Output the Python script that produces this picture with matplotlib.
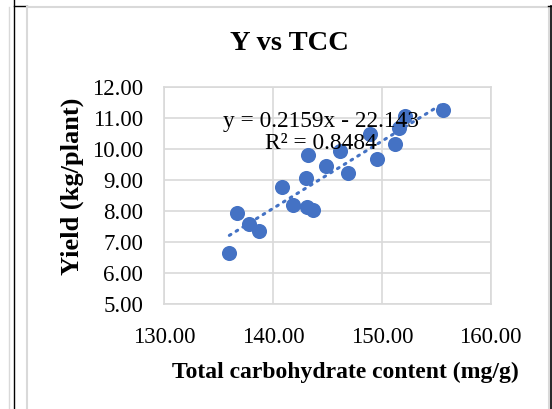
import numpy as np
import matplotlib.pyplot as plt
from matplotlib.lines import Line2D

# Total carbohydrate content (mg/g) vs yield (kg/plant)
tcc = [136.0, 136.7, 137.8, 138.7, 140.8, 141.8, 143.0, 143.1, 143.7, 143.2,
       144.9, 146.2, 146.9, 148.9, 149.6, 151.2, 151.6, 152.1, 155.6]
yield_kg = [6.65, 7.95, 7.60, 7.36, 8.79, 8.21, 9.06, 8.14, 8.04, 9.82,
            9.46, 9.93, 9.25, 10.49, 9.68, 10.17, 10.70, 11.07, 11.27]

x_ticks = [130, 140, 150, 160]
y_ticks = [5, 6, 7, 8, 9, 10, 11, 12]

title = "Y vs TCC"
x_label = "Total carbohydrate content (mg/g)"
y_label = "Yield (kg/plant)"
equation = "y = 0.2159x - 22.143\nR² = 0.8484"

blue = "#4472C4"
grid_grey = "#D9D9D9"
serif = ["Liberation Serif", "DejaVu Serif"]

plt.rcParams["font.family"] = serif

fig = plt.figure(figsize=(5.52, 4.09), dpi=100)
W, H = 552, 409

# --- page/table borders around the chart ---
def vline(x, y0, y1, color, lw):
    fig.add_artist(Line2D([x / W, x / W], [1 - y0 / H, 1 - y1 / H], color=color, lw=lw))

def hline(y, x0, x1, color, lw):
    fig.add_artist(Line2D([x0 / W, x1 / W], [1 - y / H, 1 - y / H], color=color, lw=lw))

vline(8.7, 6.5, 409, grid_grey, 1.0)
vline(14.3, 0, 409, "black", 1.0)
hline(6.0, 14.3, 26.5, "black", 1.0)
vline(26.7, 6.5, 409, grid_grey, 1.5)
hline(6.5, 26.7, 549, grid_grey, 1.5)
vline(548.7, 6.5, 409, grid_grey, 1.5)
vline(551.0, 5.5, 409, "black", 1.2)
hline(6.0, 547.5, 551, "black", 1.0)

# --- plot area ---
ax = fig.add_axes([164 / W, 1 - 304.3 / H, (490.7 - 164) / W, (304.3 - 87.3) / H])

ax.scatter(tcc, yield_kg, s=118, color=blue, zorder=3, linewidths=0)

# linear trendline (dotted, as in Excel)
slope, intercept = np.polyfit(tcc, yield_kg, 1)
xs = np.array([min(tcc), max(tcc)])
ax.plot(xs, slope * xs + intercept, color=blue, lw=2.2,
        linestyle=(0, (0.6, 2.0)), dash_capstyle="round", zorder=2)

ax.set_xlim(130, 160)
ax.set_ylim(5, 12)
ax.set_xticks(x_ticks)
ax.set_yticks(y_ticks)
ax.set_xticklabels([f"{v:.2f}" for v in x_ticks])
ax.set_yticklabels([f"{v:.2f}" for v in y_ticks])
ax.tick_params(length=0, labelsize=16.5)
ax.tick_params(axis="y", pad=15)
ax.tick_params(axis="x", pad=16)

ax.grid(True, color=grid_grey, lw=1.2)
ax.set_axisbelow(True)
for sp in ax.spines.values():
    sp.set_color(grid_grey)
    sp.set_linewidth(1.2)

ax.text(144.4, 10.55, equation, ha="center", va="center", fontsize=16.8,
        linespacing=1.05, zorder=4)

fig.text(289 / W, 1 - 44 / H, title, ha="center", va="center",
         fontsize=20.5, fontweight="bold")
fig.text(345 / W, 1 - 372 / H, x_label, ha="center", va="center",
         fontsize=17, fontweight="bold")
fig.text(72 / W, 1 - 186 / H, y_label, ha="center", va="center",
         fontsize=19, fontweight="bold", rotation=90)

fig.savefig("out.png", dpi=100)
